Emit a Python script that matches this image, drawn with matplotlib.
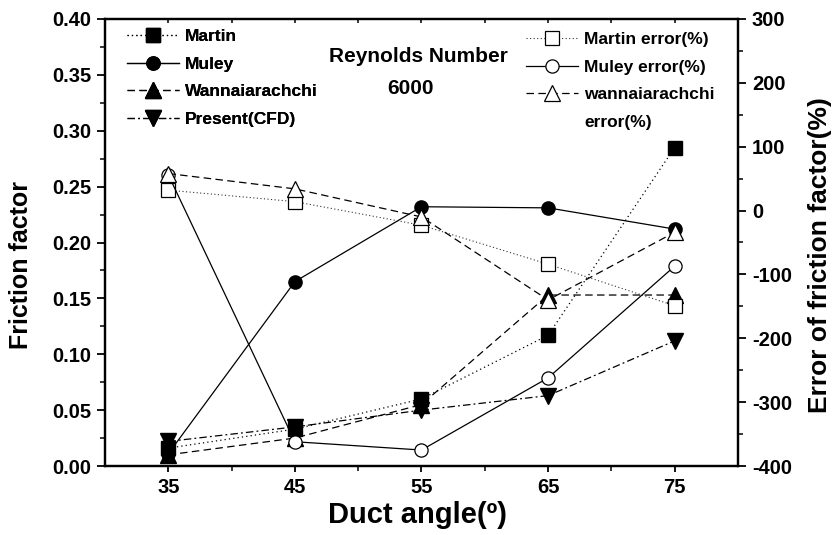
import matplotlib
matplotlib.use("Agg")
import matplotlib.pyplot as plt
from matplotlib.lines import Line2D
from matplotlib.ticker import MultipleLocator, FormatStrFormatter

plt.rcParams['font.family'] = ['Liberation Sans', 'DejaVu Sans']
plt.rcParams['font.weight'] = 'bold'
plt.rcParams['axes.unicode_minus'] = False

# Duct angle (deg)
angle = [35, 45, 55, 65, 75]

# friction factor, left axis
martin = [0.016, 0.033, 0.060, 0.117, 0.285]
muley = [0.011, 0.165, 0.232, 0.231, 0.212]
wanna = [0.010, 0.025, 0.055, 0.153, 0.153]
present = [0.022, 0.035, 0.050, 0.063, 0.112]

# error of friction factor (%), right axis
martin_err = [32, 14, -23, -84, -149]
muley_err = [56, -362, -375, -262, -87]
wanna_err = [58, 34, -10, -140, -34]

dot = (0, (1, 2.5))
fine_dot = (0, (1, 2.2))
dash = (0, (6, 3.5))
dashdot = (0, (6, 2.5, 1.5, 2.5))

fig = plt.figure(figsize=(8.36, 5.35), dpi=100)
ax = fig.add_axes([105/836, 1 - 466/535, 633/836, 447/535])
ax2 = ax.twinx()

lw = 0.9
ms_sq = 9.5
ms_tri = 12

ax.plot(angle, martin, color='k', lw=lw, ls=dot, marker='s', ms=ms_sq)
ax.plot(angle, muley, color='k', lw=lw, ls='-', marker='o', ms=ms_sq)
ax.plot(angle, wanna, color='k', lw=lw, ls=dash, marker='^', ms=ms_tri)
ax.plot(angle, present, color='k', lw=lw, ls=dashdot, marker='v', ms=ms_tri)

ax2.plot(angle, martin_err, color='#333333', lw=0.8, ls=fine_dot, marker='s', ms=ms_sq,
         mfc='white', mec='k', mew=0.9)
ax2.plot(angle, muley_err, color='k', lw=lw, ls='-', marker='o', ms=ms_sq,
         mfc='white', mec='k', mew=0.9)
ax2.plot(angle, wanna_err, color='k', lw=lw, ls=dash, marker='^', ms=ms_tri,
         mfc='white', mec='k', mew=0.9)

ax.set_xlim(30, 80)
ax.set_ylim(0, 0.40)
ax2.set_ylim(-400, 300)

ax.set_xticks([35, 45, 55, 65, 75])
ax.set_xticks([40, 50, 60, 70], minor=True)
ax.yaxis.set_major_locator(MultipleLocator(0.05))
ax.yaxis.set_minor_locator(MultipleLocator(0.025))
ax.yaxis.set_major_formatter(FormatStrFormatter('%.2f'))
ax2.yaxis.set_major_locator(MultipleLocator(100))
ax2.yaxis.set_minor_locator(MultipleLocator(50))

for a in (ax, ax2):
    for s in a.spines.values():
        s.set_linewidth(1.6)
ax.tick_params(axis='both', which='major', direction='out', length=6, width=1.3,
               labelsize=14.5, pad=4)
ax.tick_params(axis='both', which='minor', direction='out', length=3.5, width=1.1)
ax.tick_params(axis='x', which='major', length=4.5)
ax2.tick_params(axis='y', which='major', direction='out', length=6, width=1.3,
                labelsize=14.5, pad=4)
ax2.tick_params(axis='y', which='minor', direction='out', length=3.5, width=1.1)

# small inward ticks along the top frame
top = ax.secondary_xaxis('top')
top.set_xticks([35, 45, 55, 65, 75])
top.set_xticks([40, 50, 60, 70], minor=True)
top.tick_params(axis='x', which='both', direction='in', length=3, width=1.1, labeltop=False)
top.spines['top'].set_visible(False)

ax.set_xlabel('Duct angle(º)', fontsize=21, fontweight='bold')
ax.xaxis.set_label_coords(0.494, -0.11)
ax.xaxis.label.set_va('center')
ax.set_ylabel('Friction factor', fontsize=18, fontweight='bold')
ax.yaxis.set_label_coords(-0.132, 0.45)
ax.yaxis.label.set_va('center')
ax2.set_ylabel('Error of friction factor(%)', fontsize=19, fontweight='bold')
ax2.yaxis.set_label_coords(1.1295, 0.472)
ax2.yaxis.label.set_va('center')

ax.text(418/836, 1 - 57/535, 'Reynolds Number', transform=fig.transFigure,
        ha='center', va='center', fontsize=15, fontweight='bold')
ax.text(410/836, 1 - 89/535, '6000', transform=fig.transFigure,
        ha='center', va='center', fontsize=15, fontweight='bold')

# legends
left_handles = [
    Line2D([], [], color='k', lw=lw, ls=dot, marker='s', ms=ms_sq),
    Line2D([], [], color='k', lw=lw, ls='-', marker='o', ms=ms_sq),
    Line2D([], [], color='k', lw=lw, ls=dash, marker='^', ms=ms_tri),
    Line2D([], [], color='k', lw=lw, ls=dashdot, marker='v', ms=ms_tri),
]
left_labels = ['Martin', 'Muley', 'Wannaiarachchi', 'Present(CFD)']
leg1 = ax.legend(left_handles, left_labels, loc='upper left',
                 bbox_to_anchor=(127/836, 1 - 29/535), bbox_transform=fig.transFigure,
                 frameon=False, fontsize=12.5, handlelength=3.0, handletextpad=0.35,
                 labelspacing=0.72, borderpad=0, borderaxespad=0)
ax.add_artist(leg1)

right_handles = [
    Line2D([], [], color='#333333', lw=0.8, ls=fine_dot, marker='s', ms=ms_sq,
           mfc='white', mec='k', mew=0.9),
    Line2D([], [], color='k', lw=lw, ls='-', marker='o', ms=ms_sq,
           mfc='white', mec='k', mew=0.9),
    Line2D([], [], color='k', lw=lw, ls=dash, marker='^', ms=ms_tri,
           mfc='white', mec='k', mew=0.9),
    Line2D([], [], ls='none', marker='none'),
]
right_labels = ['Martin error(%)', 'Muley error(%)', 'wannaiarachchi', 'error(%)']
ax2.legend(right_handles, right_labels, loc='upper left',
           bbox_to_anchor=(526/836, 1 - 32/535), bbox_transform=fig.transFigure,
           frameon=False, fontsize=12.5, handlelength=3.0, handletextpad=0.35,
           labelspacing=0.72, borderpad=0, borderaxespad=0)

fig.savefig('out.png', dpi=100)
